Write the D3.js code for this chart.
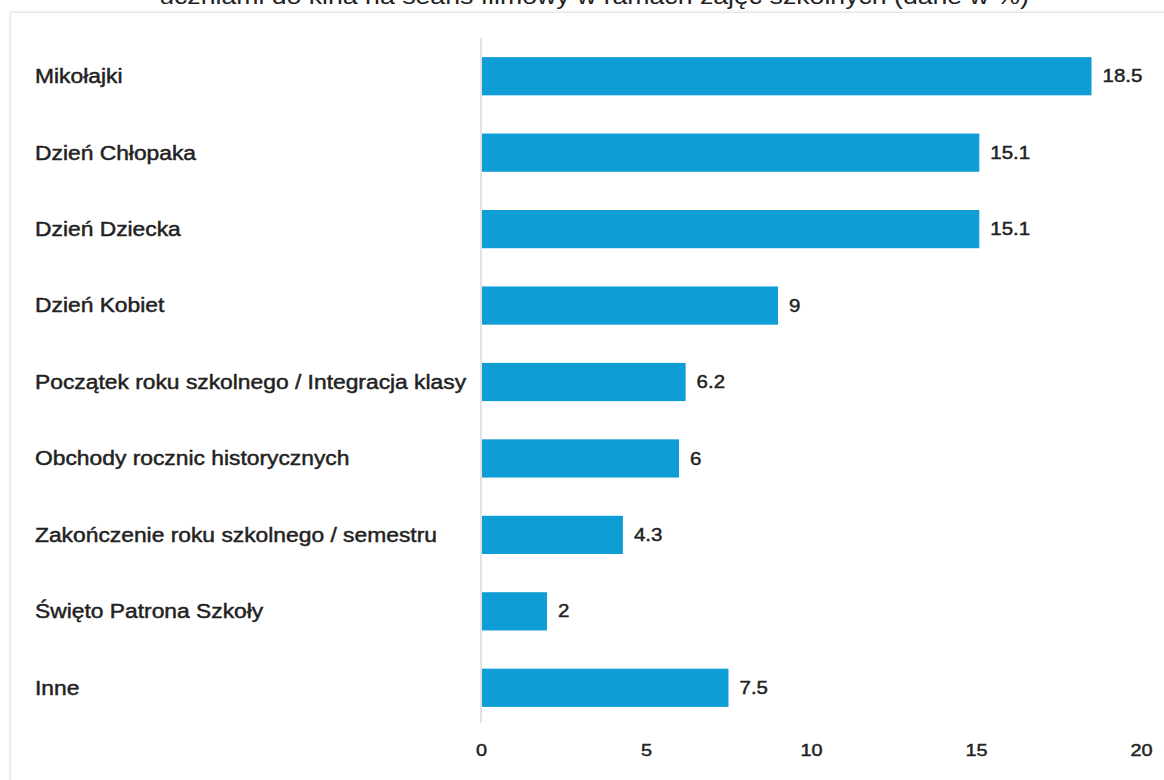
<!DOCTYPE html>
<html>
<head>
<meta charset="utf-8">
<script src="https://cdn.jsdelivr.net/npm/d3@7"></script>
<style>
  html, body { margin: 0; padding: 0; background: #fff; }
  svg { display: block; }
  text { font-family: "Liberation Sans", Arial, sans-serif; fill: #222; }
  .heavy { stroke: #222; stroke-width: 0.45px; }
</style>
</head>
<body>
<svg id="chart" width="1164" height="780"></svg>
<script>
const titleText = "uczniami do kina na seans filmowy w ramach zajęć szkolnych (dane w %)";
const categories = [
  "Mikołajki",
  "Dzień Chłopaka",
  "Dzień Dziecka",
  "Dzień Kobiet",
  "Początek roku szkolnego / Integracja klasy",
  "Obchody rocznic historycznych",
  "Zakończenie roku szkolnego / semestru",
  "Święto Patrona Szkoły",
  "Inne"
];
const values = [18.5, 15.1, 15.1, 9, 6.2, 6, 4.3, 2, 7.5];
const tickValues = [0, 5, 10, 15, 20];

const svg = d3.select("#chart");
const SX = 1.17; // horizontal stretch of text in reference

// card with soft shadow
const defs = svg.append("defs");
const f = defs.append("filter").attr("id", "sh").attr("x", "-5%").attr("y", "-5%").attr("width", "110%").attr("height", "110%");
f.append("feDropShadow").attr("dx", 0).attr("dy", 0).attr("stdDeviation", 1.5).attr("flood-color", "#000").attr("flood-opacity", 0.12);
svg.append("rect").attr("x", 10.5).attr("y", 12.5).attr("width", 1170).attr("height", 800)
  .attr("fill", "#fff").attr("stroke", "#e6e6e6").attr("filter", "url(#sh)");

// title (cut off at top, as in the reference)
svg.append("text")
  .attr("transform", `translate(594,4) scale(${SX},1)`)
  .attr("text-anchor", "middle")
  .style("font-size", "22.8px")
  .text(titleText);

const x = d3.scaleLinear().domain([0, 20]).range([481, 1141]);
const y = d3.scaleBand().domain(categories).range([38, 726]).paddingInner(0.5).paddingOuter(0.25);

// zero line
svg.append("line")
  .attr("x1", x(0)).attr("x2", x(0))
  .attr("y1", 38).attr("y2", 723)
  .attr("stroke", "#e2e2e2").attr("stroke-width", 2);

// bars
svg.append("g").selectAll("rect").data(values).join("rect")
  .attr("x", x(0) + 1)
  .attr("y", (d, i) => y(categories[i]))
  .attr("width", d => x(d) - x(0) - 1)
  .attr("height", y.bandwidth())
  .attr("fill", "#0f9dd6");

// category labels
svg.append("g").selectAll("text").data(categories).join("text")
  .attr("class", "heavy")
  .attr("transform", d => `translate(35,${y(d) + y.bandwidth() / 2}) scale(${SX},1)`)
  .attr("dy", "0.35em")
  .style("font-size", "19.5px")
  .text(d => d);

// value labels
svg.append("g").selectAll("text").data(values).join("text")
  .attr("class", "heavy")
  .attr("transform", (d, i) => `translate(${x(d) + 11},${y(categories[i]) + y.bandwidth() / 2}) scale(${SX},1)`)
  .attr("dy", "0.35em")
  .style("font-size", "17.5px")
  .text(d => d);

// x axis
const axis = d3.axisBottom(x).tickValues(tickValues).tickSize(0).tickPadding(0).tickFormat(d3.format("d"));
const ax = svg.append("g").attr("transform", "translate(0,750)").call(axis);
ax.select(".domain").remove();
ax.selectAll("text")
  .attr("class", "heavy")
  .attr("y", 0).attr("dy", "0.35em")
  .attr("transform", `scale(${SX},1)`)
  .style("font-size", "17px")
  .style("font-family", "'Liberation Sans', Arial, sans-serif")
  .style("fill", "#222");
</script>
</body>
</html>
